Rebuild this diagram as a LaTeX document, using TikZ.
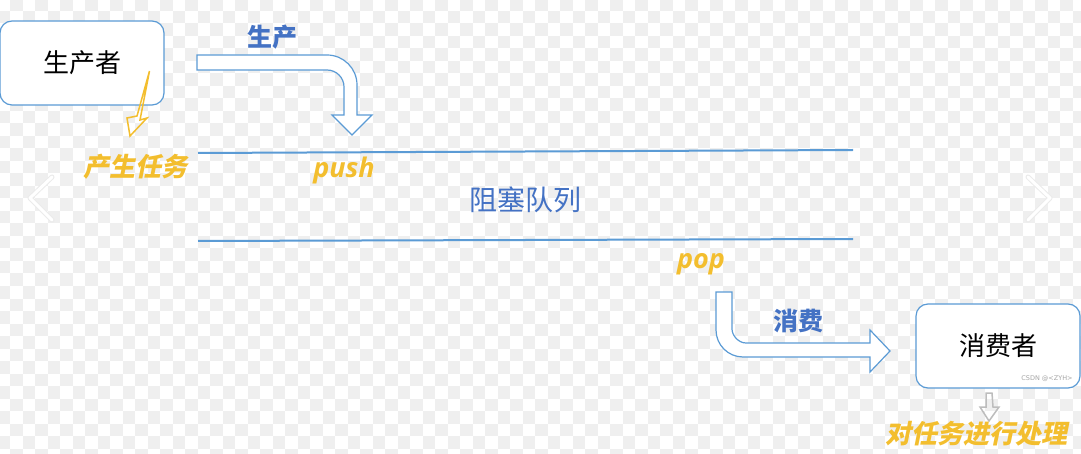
\documentclass[tikz,border=0pt]{standalone}
\usepackage{fontspec}
\setmainfont{Noto Sans CJK SC}
\newfontfamily\taskfont[FakeSlant=0.2]{Noto Sans CJK SC}
\newfontfamily\opfont{Open Sans}
\newfontfamily\markfont{DejaVu Sans}
\usepackage{tikz}
\usetikzlibrary{
    positioning,    % 相对位置
    calc            % 坐标计算
}
\definecolor{boxblue}{HTML}{5B9BD5}
\definecolor{txtblue}{HTML}{4472C4}
\definecolor{taskyel}{HTML}{F3BE2E}
\definecolor{chkgray}{HTML}{EFEFEF}
\definecolor{tipgray}{HTML}{BDBDBD}

\begin{document}
\begin{tikzpicture}[
    x=1pt, y=-1pt,
    box/.style={draw=boxblue, line width=1.2pt, fill=white, rounded corners=12pt,
        minimum width=164pt, minimum height=84pt, inner sep=0pt},
    bluelabel/.style={text=txtblue, inner sep=0pt, font=\bfseries\fontsize{25}{25}\selectfont},
    tasklabel/.style={text=taskyel, inner sep=0pt, font=\taskfont\bfseries\fontsize{26}{26}\selectfont},
    oplabel/.style={text=taskyel, inner sep=0pt, font=\opfont\bfseries\itshape\fontsize{27}{27}\selectfont},
    bigarrow/.style={draw=boxblue, line width=1.2pt, fill=white, line join=miter},
    queueline/.style={draw=boxblue, line width=2pt}
]
    \useasboundingbox (0,0) rectangle (1081,454);

    % 背景棋盘格
    \begin{scope}
        \clip (0,0) rectangle (1081,454);
        \fill[white] (0,0) rectangle (1081,454);
        \foreach \r in {-1,...,35}{
            \foreach \c in {-1,...,85}{
                \pgfmathtruncatemacro\k{\c+\r+10}
                \ifodd\k \fill[chkgray] (10+12.5*\c,11+12.5*\r) rectangle ++(12.5,12.5); \fi
            }
        }
    \end{scope}

    % 左右翻页箭头
    \draw[line width=5pt, line cap=round, line join=round, draw=black!8] (52,177) -- (30,198) -- (52,220);
    \draw[line width=3pt, line cap=round, line join=round, draw=white] (52,177) -- (30,198) -- (52,220);
    \draw[line width=5pt, line cap=round, line join=round, draw=black!8] (1028,177) -- (1050,198) -- (1028,220);
    \draw[line width=3pt, line cap=round, line join=round, draw=white] (1028,177) -- (1050,198) -- (1028,220);

    % 生产者和消费者
    \node[box, font=\fontsize{26}{26}\selectfont] (producer) at (82,63) {生产者};
    \node[box, font=\fontsize{26}{26}\selectfont] (consumer) at (998,346) {消费者};
    \node[text=black!35, inner sep=0pt, font=\markfont\fontsize{6.5}{6.5}\selectfont] (mark) at (1047,379) {CSDN @<ZYH>};

    % 阻塞队列
    \draw[queueline] (198,153) -- (853,150);
    \draw[queueline] (198,241) -- (853,239);
    \node[text=txtblue, inner sep=0pt, font=\fontsize{28}{28}\selectfont] (queue) at (525,200) {阻塞队列};

    % 生产箭头
    \draw[bigarrow] (197,55) -- (327,55) .. controls (343.6,55) and (357,68.4) .. (357,85)
        -- (357,115) -- (372,115) -- (352,135) -- (332,115) -- (344,115)
        -- (344,87) .. controls (344,77.6) and (336.4,70) .. (327,70) -- (197,70) -- cycle;
    \node[bluelabel] (produce) at (272,37) {生产};
    \node[oplabel] (push) at (344,170) {push};

    % 消费箭头
    \draw[bigarrow] (716,292) -- (716,330) .. controls (716,344.9) and (728.1,357) .. (743,357)
        -- (870,357) -- (870,372) -- (890,351) -- (870,330) -- (870,343)
        -- (746,343) .. controls (738.3,343) and (732,335.3) .. (732,329) -- (732,292) -- cycle;
    \node[bluelabel] (consume) at (798,321) {消费};
    \node[oplabel] (pop) at (701,264) {pop};

    % 产生任务
    \draw[taskyel, line width=1.5pt, line join=miter]
        (149.5,71) -- (137,116) -- (127,118) -- (130,136) -- (147,118) -- (140,120) -- cycle;
    \node[tasklabel] (make) at (135,167) {产生任务};

    % 处理任务
    \draw[tipgray, line width=1.5pt]
        (986,393) -- (992,393) -- (993,407) -- (999,407) -- (989,421) -- (980,407) -- (986,407) -- cycle;
    \node[tasklabel] (handle) at (976,434) {对任务进行处理};
\end{tikzpicture}
\end{document}
